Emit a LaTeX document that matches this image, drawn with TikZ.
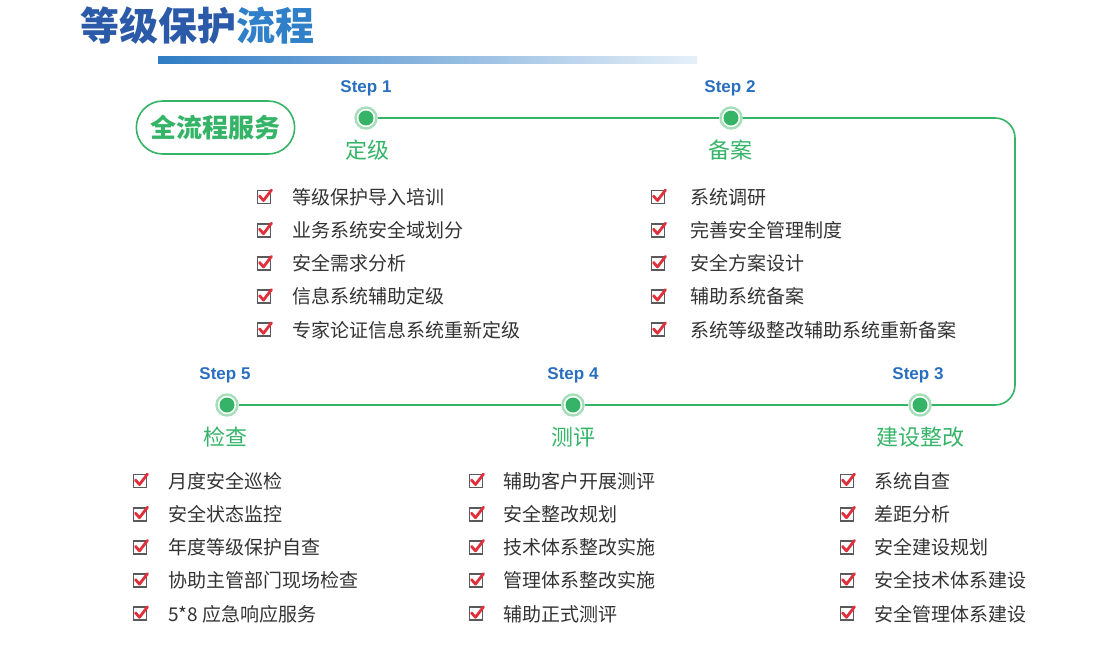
\documentclass[tikz,border=0pt]{standalone}
\usepackage{fontspec}
\setmainfont{Liberation Sans}
\newfontfamily\cjk{Noto Sans CJK SC}
\usetikzlibrary{shapes.misc}
\definecolor{dkblue}{HTML}{2B5BA8}
\definecolor{ltblue}{HTML}{2F80C8}
\definecolor{stepblue}{HTML}{2A6FBF}
\definecolor{grn}{HTML}{35B468}
\definecolor{lgrn}{HTML}{A6DDBA}
\definecolor{txt}{HTML}{333333}
\definecolor{chkred}{HTML}{E0303C}
\definecolor{boxgray}{HTML}{5A5A5A}
\tikzset{
  steplbl/.style={font=\bfseries\fontsize{17}{17}\selectfont, text=stepblue, inner sep=0pt},
  stagelbl/.style={font=\cjk\fontsize{22}{22}\selectfont, text=grn, inner sep=0pt},
  item/.style={font=\cjk\fontsize{19}{19}\selectfont, text=txt, anchor=west, inner sep=0pt},
  dot/.style={circle, fill=white, minimum size=21pt, inner sep=0pt, draw=lgrn, line width=2.4pt},
  flow/.style={draw=grn, line width=1.6pt, rounded corners=20pt},
  pics/chkbox/.style={code={
    \draw[boxgray, line width=1.7pt] (-6.5,-6.5) rectangle (6.5,6.5);
    \draw[chkred, line width=2.8pt, line cap=round, line join=round] (-4.5,-1) -- (-0.5,3.5) -- (7.5,-7);
  }}
}
\begin{document}
\begin{tikzpicture}[x=1pt,y=-1pt]
\useasboundingbox (0,0) rectangle (1104,656);
% title
\node[anchor=west, inner sep=0pt, font=\cjk\bfseries\fontsize{39}{39}\selectfont] (title) at (80,26)
  {\textcolor{dkblue}{等级保护}\textcolor{ltblue}{流程}};
\shade[left color=ltblue!90!dkblue, right color=ltblue!12] (158,56) rectangle (697,63);
% full-process box
\node[draw=grn, line width=1.6pt, rounded rectangle, minimum width=165pt, minimum height=53pt,
  font=\cjk\bfseries\fontsize{26}{26}\selectfont, text=grn] (svc) at (215.5,127.5) {全流程服务};
% flow line
\coordinate (c1) at (1015,118);
\coordinate (c2) at (1015,405);
\node[dot] (d1) at (366,118) {};
\node[dot] (d2) at (731,118) {};
\node[dot] (d3) at (920,405) {};
\node[dot] (d4) at (573,405) {};
\node[dot] (d5) at (227,405) {};
\foreach \d in {d1,d2,d3,d4,d5}{\fill[grn] (\d) circle (7.5);}
\draw[flow] (d1.east) -- (d2.west);
\draw[flow] (d2.east) -- (c1) -- (c2) -- (d3.east);
\draw[flow] (d3.west) -- (d4.east);
\draw[flow] (d4.west) -- (d5.east);
% step labels
\node[steplbl] (s1) at (366,88) {Step 1};
\node[steplbl] (s2) at (730,88) {Step 2};
\node[steplbl] (s3) at (918,375) {Step 3};
\node[steplbl] (s4) at (573,375) {Step 4};
\node[steplbl] (s5) at (225,375) {Step 5};
\node[stagelbl] (g1) at (367,150) {定级};
\node[stagelbl] (g2) at (730,150) {备案};
\node[stagelbl] (g3) at (920,437) {建设整改};
\node[stagelbl] (g4) at (573,437) {测评};
\node[stagelbl] (g5) at (225,437) {检查};
% lists
\foreach \t [count=\i] in {等级保护导入培训,业务系统安全域划分,安全需求分析,信息系统辅助定级,专家论证信息系统重新定级}{
  \pic at (264,{197+33.2*(\i-1)}) {chkbox};
  \node[item] (a\i) at (292,{197+33.2*(\i-1)}) {\t};
}
\foreach \t [count=\i] in {系统调研,完善安全管理制度,安全方案设计,辅助系统备案,系统等级整改辅助系统重新备案}{
  \pic at (658,{197+33.2*(\i-1)}) {chkbox};
  \node[item] (b\i) at (690,{197+33.2*(\i-1)}) {\t};
}
\foreach \t [count=\i] in {月度安全巡检,安全状态监控,年度等级保护自查,协助主管部门现场检查,5*8 应急响应服务}{
  \pic at (140,{481+33.2*(\i-1)}) {chkbox};
  \node[item] (e\i) at (168,{481+33.2*(\i-1)}) {\t};
}
\foreach \t [count=\i] in {辅助客户开展测评,安全整改规划,技术体系整改实施,管理体系整改实施,辅助正式测评}{
  \pic at (476,{481+33.2*(\i-1)}) {chkbox};
  \node[item] (f\i) at (503,{481+33.2*(\i-1)}) {\t};
}
\foreach \t [count=\i] in {系统自查,差距分析,安全建设规划,安全技术体系建设,安全管理体系建设}{
  \pic at (847,{481+33.2*(\i-1)}) {chkbox};
  \node[item] (h\i) at (874,{481+33.2*(\i-1)}) {\t};
}
\end{tikzpicture}
\end{document}
